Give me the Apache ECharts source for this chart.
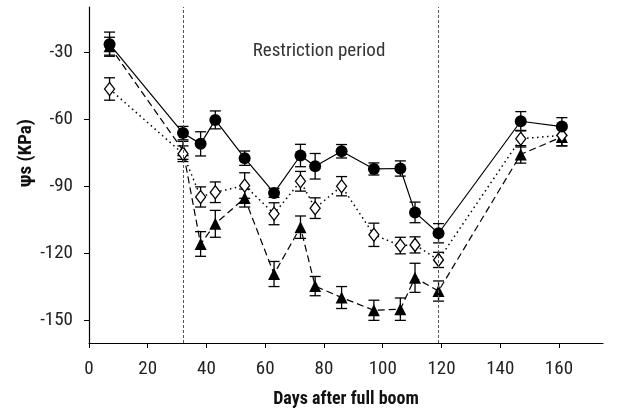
<!DOCTYPE html>
<html>
<head>
<meta charset="utf-8">
<script src="https://cdn.jsdelivr.net/npm/echarts@6/dist/echarts.min.js"></script>
<style>html,body{margin:0;padding:0;background:#fff}#c{width:621px;height:410px}</style>
</head>
<body>
<div id="c"></div>
<script>
var days = [7, 32, 38, 43, 53, 63, 72, 77, 86, 97, 106, 111, 119, 147, 161];
var circleVals = [-26.6, -66.3, -71.1, -60.4, -77.5, -93.0, -76.3, -81.1, -74.4, -82.3, -82.1, -101.7, -111.0, -61.0, -63.4];
var circleErr = [5.4, 3.0, 5.4, 4.0, 3.2, 2.0, 5.0, 5.7, 3.0, 2.7, 3.4, 4.6, 4.3, 4.3, 4.0];
var diamondVals = [-46.6, -75.5, -94.8, -92.7, -89.7, -102.3, -87.8, -99.8, -90.0, -111.7, -116.5, -116.2, -122.9, -68.8, -67.3];
var diamondErr = [5.0, 3.5, 4.5, 4.6, 5.7, 4.9, 4.4, 4.6, 4.3, 5.2, 3.7, 3.6, 3.4, 3.7, 4.7];
var triangleVals = [-27.5, -74.0, -115.8, -106.8, -95.3, -129.2, -108.3, -134.6, -139.7, -145.4, -144.9, -130.9, -136.8, -75.8, -68.0];
var triangleErr = [4.0, 4.0, 5.5, 6.0, 4.0, 5.6, 5.0, 4.3, 4.9, 4.5, 5.0, 6.5, 4.5, 3.9, 4.0];
var xTicks = [0, 20, 40, 60, 80, 100, 120, 140, 160];
var yTicks = [-150, -120, -90, -60, -30];
var periodBounds = [32, 119];

var FONT = '"Liberation Sans Narrow", "Roboto Condensed", Roboto, sans-serif';

function pairs(v) { return days.map(function (d, i) { return [d, v[i]]; }); }
function errData(v, e) { return days.map(function (d, i) { return [d, v[i] - e[i], v[i] + e[i]]; }); }

function renderErr(params, api) {
  var x = api.value(0);
  var lo = api.coord([x, api.value(1)]);
  var hi = api.coord([x, api.value(2)]);
  var w = 5.5;
  var st = { stroke: '#000', lineWidth: 1.3, fill: null };
  return {
    type: 'group',
    children: [
      { type: 'line', shape: { x1: lo[0], y1: lo[1], x2: hi[0], y2: hi[1] }, style: st },
      { type: 'line', shape: { x1: lo[0] - w, y1: lo[1], x2: lo[0] + w, y2: lo[1] }, style: st },
      { type: 'line', shape: { x1: hi[0] - w, y1: hi[1], x2: hi[0] + w, y2: hi[1] }, style: st }
    ]
  };
}

function errSeries(v, e, z) {
  return { type: 'custom', renderItem: renderErr, data: errData(v, e), z: z, silent: true, encode: { x: 0, y: [1, 2] } };
}

var chart = echarts.init(document.getElementById('c'), null, { renderer: 'canvas' });
chart.setOption({
  animation: false,
  backgroundColor: '#fff',
  grid: { left: 89, right: 18, top: 7, bottom: 67, containLabel: false, outerBoundsMode: 'none' },
  xAxis: {
    type: 'value', min: 0, max: 175,
    axisLine: { lineStyle: { color: '#000', width: 1.2 } },
    axisTick: { customValues: xTicks, length: 5, lineStyle: { color: '#000' } },
    axisLabel: { customValues: xTicks, fontFamily: FONT, fontSize: 19, color: '#222', margin: 17 },
    splitLine: { show: false },
    name: 'Days after full boom', nameLocation: 'middle', nameGap: 47,
    nameTextStyle: { fontFamily: FONT, fontSize: 18, fontWeight: 'bold', color: '#111' }
  },
  yAxis: {
    type: 'value', min: -160, max: -10,
    axisLine: { show: true, lineStyle: { color: '#000', width: 1.2 } },
    axisTick: { show: true, customValues: yTicks, length: 5, lineStyle: { color: '#000' } },
    axisLabel: { customValues: yTicks, fontFamily: FONT, fontSize: 19, color: '#222', margin: 16 },
    splitLine: { show: false }
  },
  graphic: [
    { type: 'text', x: 26, y: 153, rotation: Math.PI / 2,
      style: { text: 'ψs (KPa)', font: 'bold 19px ' + FONT, fill: '#111', align: 'center', verticalAlign: 'middle' } },
    { type: 'text', x: 319, y: 51,
      style: { text: 'Restriction period', font: '19px ' + FONT, fill: '#333', align: 'center', verticalAlign: 'middle' } }
  ],
  series: [
    errSeries(triangleVals, triangleErr, 1),
    errSeries(diamondVals, diamondErr, 1),
    errSeries(circleVals, circleErr, 1),
    {
      type: 'line', data: pairs(triangleVals), z: 3,
      symbol: 'triangle', symbolSize: 12,
      itemStyle: { color: '#000' },
      lineStyle: { color: '#000', width: 1.2, type: [7, 4] },
      markLine: {
        silent: true, symbol: 'none', label: { show: false },
        lineStyle: { color: '#555', type: [3, 2], width: 1 },
        data: periodBounds.map(function (b) { return { xAxis: b }; })
      }
    },
    {
      type: 'line', data: pairs(diamondVals), z: 4,
      symbol: 'diamond', symbolSize: [10, 13],
      itemStyle: { color: '#fff', borderColor: '#000', borderWidth: 1.3 },
      lineStyle: { color: '#000', width: 1.5, type: [1.5, 3.5] }
    },
    {
      type: 'line', data: pairs(circleVals), z: 5,
      symbol: 'circle', symbolSize: 12,
      itemStyle: { color: '#000' },
      lineStyle: { color: '#000', width: 1.2 }
    }
  ]
});
</script>
</body>
</html>
